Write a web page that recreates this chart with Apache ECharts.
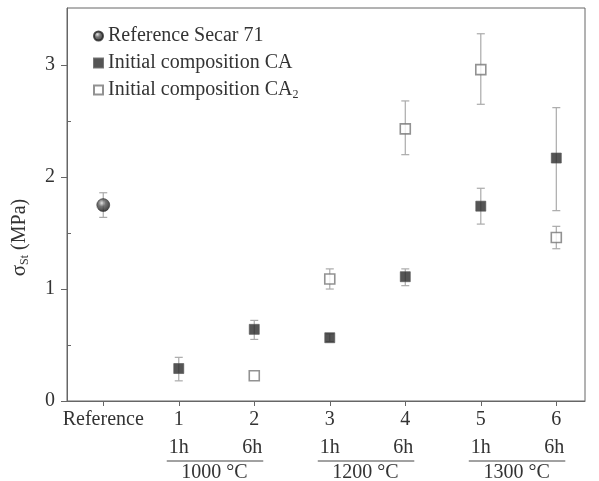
<!DOCTYPE html>
<html>
<head>
<meta charset="utf-8">
<script src="https://cdn.jsdelivr.net/npm/echarts@6/dist/echarts.min.js"></script>
<style>
  html, body { margin: 0; padding: 0; background: #fff; }
  #chart { width: 599px; height: 481px; }
</style>
</head>
<body>
<div id="chart"></div>
<script>
// x positions: 0 = Reference, 1..6 = samples
const tickValues = [0, 1, 2, 3, 4, 5, 6]
const tickLabels = ['Reference', '1', '2', '3', '4', '5', '6']

// Reference Secar 71
const refX = [0]
const refY = [1.75]
const refLow = [1.64]
const refHigh = [1.86]

// Initial composition CA
const caX = [1, 2, 3, 4, 5, 6]
const caY = [0.29, 0.64, 0.565, 1.11, 1.74, 2.17]
const caLow = [0.18, 0.55, 0.53, 1.03, 1.58, 1.70]
const caHigh = [0.39, 0.72, 0.60, 1.18, 1.90, 2.62]

// Initial composition CA2
const ca2X = [2, 3, 4, 5, 6]
const ca2Y = [0.226, 1.09, 2.43, 2.96, 1.46]
const ca2Low = [0.226, 1.00, 2.20, 2.65, 1.36]
const ca2High = [0.226, 1.18, 2.68, 3.28, 1.56]

// groups under the x axis
const groups = [
  { from: 1, to: 2, label: '1000 °C' },
  { from: 3, to: 4, label: '1200 °C' },
  { from: 5, to: 6, label: '1300 °C' }
]

const font = 'Liberation Serif'
const fs = 20
const txt = '#333'
const axisColor = '#666'

const pts = (xs, ys) => xs.map((x, i) => [x, ys[i]])
const errs = (xs, lo, hi) => xs.map((x, i) => [x, lo[i], hi[i]])

// error bars with caps
const errorBar = (name, data) => ({
  type: 'custom',
  name: name,
  data: data,
  z: 1,
  silent: true,
  renderItem: (params, api) => {
    const x = api.value(0)
    const lo = api.value(1)
    const hi = api.value(2)
    if (hi - lo < 1e-6) return null
    const a = api.coord([x, lo])
    const b = api.coord([x, hi])
    const cap = 4
    const style = { stroke: '#aaa', lineWidth: 1.2 }
    return {
      type: 'group',
      children: [
        { type: 'line', shape: { x1: a[0], y1: a[1], x2: b[0], y2: b[1] }, style },
        { type: 'line', shape: { x1: a[0] - cap, y1: a[1], x2: a[0] + cap, y2: a[1] }, style },
        { type: 'line', shape: { x1: b[0] - cap, y1: b[1], x2: b[0] + cap, y2: b[1] }, style }
      ]
    }
  },
  encode: { x: 0, y: [1, 2] }
})

const chart = echarts.init(document.getElementById('chart'))

const option = {
  backgroundColor: '#fff',
  animation: false,
  grid: {
    left: 67,
    right: 14,
    top: 8,
    bottom: 80,
    show: true,
    borderColor: axisColor,
    borderWidth: 1
  },
  legend: {
    orient: 'vertical',
    left: 88,
    top: 21,
    itemWidth: 9,
    itemHeight: 9,
    itemGap: 7,
    data: [
      { name: 'Reference Secar 71', icon: 'circle' },
      { name: 'Initial composition CA', icon: 'rect' },
      { name: 'Initial composition CA2', icon: 'rect' }
    ],
    formatter: (name) => name === 'Initial composition CA2' ? 'Initial composition CA{sub|2}' : name,
    textStyle: {
      fontFamily: font,
      fontSize: fs,
      color: txt,
      rich: {
        sub: { fontFamily: font, fontSize: 12, color: txt, verticalAlign: 'bottom', padding: [10, 0, 0, 0] }
      }
    }
  },
  xAxis: {
    type: 'value',
    min: -0.48,
    max: 6.38,
    splitLine: { show: false },
    axisLine: { show: true, onZero: false, lineStyle: { color: axisColor } },
    axisTick: { show: true, inside: false, length: 5, customValues: tickValues, lineStyle: { color: axisColor } },
    axisLabel: {
      customValues: tickValues,
      margin: 9,
      fontFamily: font,
      fontSize: fs,
      color: txt,
      formatter: (v) => tickLabels[tickValues.indexOf(Math.round(v))]
    }
  },
  yAxis: [
    {
      type: 'value',
      min: 0,
      max: 3.51,
      splitLine: { show: false },
      axisLine: { show: true, onZero: false, lineStyle: { color: axisColor } },
      axisTick: { show: true, length: 6, customValues: [0, 1, 2, 3], lineStyle: { color: axisColor } },
      axisLabel: {
        customValues: [0, 1, 2, 3],
        margin: 12,
        fontFamily: font,
        fontSize: fs,
        color: txt
      },
      name: '{s|σ}{sub|St} (MPa)',
      nameLocation: 'middle',
      nameGap: 36,
      nameTextStyle: {
        fontFamily: font,
        fontSize: fs,
        color: txt,
        padding: [0, 66, 0, 0],
        rich: {
          s: { fontFamily: font, fontSize: 21, color: txt },
          sub: { fontFamily: font, fontSize: 12, color: txt, verticalAlign: 'bottom', padding: [11, 0, 0, 0] }
        }
      }
    },
    {
      // minor ticks
      type: 'value',
      position: 'left',
      min: 0,
      max: 3.51,
      splitLine: { show: false },
      axisLine: { show: false, onZero: false },
      axisTick: { show: true, inside: true, length: 4, customValues: [0.5, 1.5, 2.5], lineStyle: { color: axisColor } },
      axisLabel: { show: false }
    }
  ],
  series: [
    errorBar('refErr', errs(refX, refLow, refHigh)),
    errorBar('caErr', errs(caX, caLow, caHigh)),
    errorBar('ca2Err', errs(ca2X, ca2Low, ca2High)),
    {
      type: 'scatter',
      name: 'Reference Secar 71',
      data: pts(refX, refY),
      symbol: 'circle',
      symbolSize: 13,
      z: 3,
      itemStyle: {
        color: {
          type: 'radial', x: 0.4, y: 0.35, r: 0.65,
          colorStops: [
            { offset: 0, color: '#ddd' },
            { offset: 0.4, color: '#555' },
            { offset: 1, color: '#111' }
          ]
        },
        borderColor: '#222',
        borderWidth: 0.6
      }
    },
    {
      type: 'scatter',
      name: 'Initial composition CA',
      data: pts(caX, caY),
      symbol: 'rect',
      symbolSize: 10,
      z: 3,
      itemStyle: { color: '#2a2a2a', borderColor: '#555', borderWidth: 0.8 }
    },
    {
      type: 'scatter',
      name: 'Initial composition CA2',
      data: pts(ca2X, ca2Y),
      symbol: 'rect',
      symbolSize: 10,
      z: 3,
      itemStyle: { color: '#fff', borderColor: '#777', borderWidth: 1.6 }
    }
  ]
}

chart.setOption(option)

// group labels below the axis (1h / 6h, temperature)
const graphics = []
const gFont = fs + 'px ' + font
groups.forEach((g) => {
  const a = chart.convertToPixel({ gridIndex: 0 }, [g.from, 0])
  const b = chart.convertToPixel({ gridIndex: 0 }, [g.to, 0])
  const yBase = a[1]
  graphics.push({
    type: 'text', x: a[0] - 10, y: yBase + 47,
    style: { text: '1h', font: gFont, fill: txt, align: 'left', verticalAlign: 'middle' }
  })
  graphics.push({
    type: 'text', x: b[0] + 8, y: yBase + 47,
    style: { text: '6h', font: gFont, fill: txt, align: 'right', verticalAlign: 'middle' }
  })
  graphics.push({
    type: 'line', shape: { x1: a[0] - 12, y1: yBase + 60, x2: b[0] + 9, y2: yBase + 60 },
    style: { stroke: '#444', lineWidth: 1 }
  })
  graphics.push({
    type: 'text', x: (a[0] + b[0]) / 2 - 2, y: yBase + 72,
    style: { text: g.label, font: gFont, fill: txt, align: 'center', verticalAlign: 'middle' }
  })
})
chart.setOption({ graphic: graphics })
</script>
</body>
</html>
